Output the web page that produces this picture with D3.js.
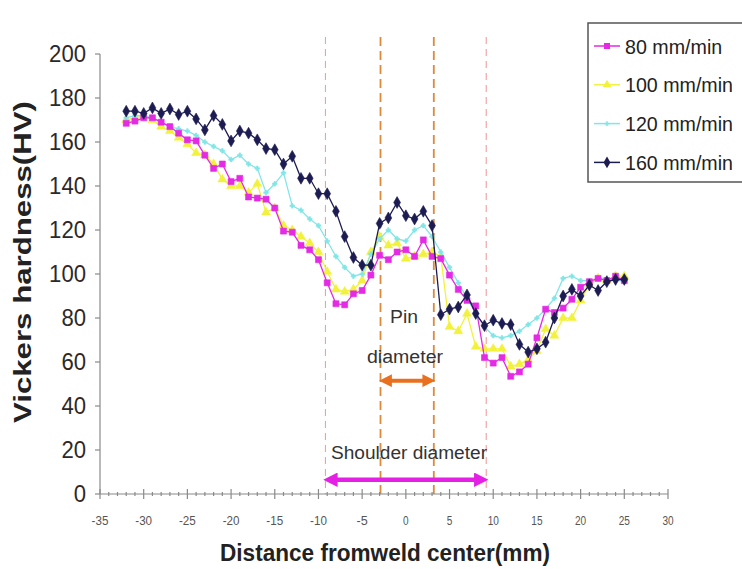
<!DOCTYPE html>
<meta charset="utf-8">
<style>
body { margin: 0; background: #fff; }
svg { display: block; font-family: "Liberation Sans", Arial, sans-serif; }
.axis-line { stroke: #8a8a8a; stroke-width: 1.2; fill: none; }
.ytick text { font-size: 23px; fill: #2a2a2a; }
.xtick text { font-size: 12px; fill: #555; }
.title { font-weight: bold; fill: #222; }
.note { fill: #333; font-size: 18px; }
.legend text { font-size: 21px; fill: #222; }
</style>
<svg width="742" height="569"></svg>
<script src="https://d3js.org/d3.v7.min.js"></script>
<script>

// distance from weld centre (mm), one reading per mm
var distance = [-32,-31,-30,-29,-28,-27,-26,-25,-24,-23,
  -22,-21,-20,-19,-18,-17,-16,-15,-14,-13,
  -12,-11,-10,-9,-8,-7,-6,-5,-4,-3,
  -2,-1,0,1,2,3,4,5,6,7,
  8,9,10,11,12,13,14,15,16,17,
  18,19,20,21,22,23,24,25];

var hv80 = [168.5,169.5,171,171,169,167,164,161,160.5,154,
  148,150,142,143.5,135,134.5,134,130,119.5,119,
  113,111,106.5,96,86.5,86,91,92.5,99.5,108.5,
  106.5,110,111,108,115.5,108,107,99.5,93,88,
  85.5,62,59.5,62,53.5,55.5,59,71,84,82.5,
  84.5,88.5,94,96.5,98,97,99,97];

var hv100 = [170,171,172,170,167,165,162,159,155,154,
  150,143,140,140,137,141,128,130,122,120,
  117,114,110,101,93,92,93,97,110,117,
  113,114,107,108,109,110,108,76,74,82,
  67,66,66,66,58,59,61,65,75,72,
  80,80,88,95,98,97,99,99];

var hv120 = [171,172,172,171,169,167,166,165,163,160,
  158,156,152,154,150,148,137,141,146,131,
  129,125,122,115,108,103,99,100,109,116,
  120,116,115,120,122,117,110,103,96,89,
  82,76,72,71,72,74,77,80,84,89,
  98,99,97,97,98,98,97,97];

var hv160 = [174,174,173,175.5,173,175,172.5,174,170.5,165.5,
  172,168,160.5,165,164,161,157,156.5,150,153.5,
  143.5,143.5,136.5,136.5,128.5,117,107.5,104,104,123,
  125.5,132.5,126.5,125,128.5,122,81.5,84,85,90.5,
  82,76.5,79,77.5,77,68,64.5,66,69,80,
  90,93,90,95,92.5,96.5,97.5,97.5];

var seriesNames = ["80 mm/min", "100 mm/min", "120 mm/min", "160 mm/min"];
var xTicks = [-35,-30,-25,-20,-15,-10,-5,0,5,10,15,20,25,30];
var yTicks = [0,20,40,60,80,100,120,140,160,180,200];

// tool geometry marks (mm)
var shoulderEdges = [-9.2, 9.2];
var pinEdges = [-2.9, 3.2];
var pinArrowHV = 51.5;
var shoulderArrowHV = 6.5;

var series = [
  {name: seriesNames[1], values: hv100, color: "#f2f23c", marker: d3.symbolTriangle, size: 34},
  {name: seriesNames[2], values: hv120, color: "#82e6e6", marker: d3.symbolCross, size: 12},
  {name: seriesNames[0], values: hv80, color: "#e42ae4", marker: d3.symbolSquare, size: 36},
  {name: seriesNames[3], values: hv160, color: "#1c1c52", marker: d3.symbolDiamond, size: 40}
];
var legendOrder = [2, 0, 1, 3];

var svg = d3.select("svg");

var x = d3.scaleLinear().domain([-35, 30]).range([100, 668]);
var y = d3.scaleLinear().domain([0, 200]).range([494, 54]);

// dashed guide lines
var guides = svg.append("g");
shoulderEdges.forEach(function(v) {
  guides.append("line")
    .attr("x1", x(v)).attr("x2", x(v))
    .attr("y1", 37).attr("y2", y(0))
    .attr("stroke", "#f0a0a0").attr("stroke-width", 1.1)
    .attr("stroke-dasharray", "7,5");
});
pinEdges.forEach(function(v) {
  guides.append("line")
    .attr("x1", x(v)).attr("x2", x(v))
    .attr("y1", 37).attr("y2", y(0))
    .attr("stroke", "#de8a3a").attr("stroke-width", 1.8)
    .attr("stroke-dasharray", "9,5");
});

// y axis
svg.append("line").attr("class", "axis-line")
  .attr("x1", x(-35)).attr("x2", x(-35))
  .attr("y1", y(200)).attr("y2", y(0));
var yt = svg.append("g").attr("class", "ytick")
  .selectAll("g").data(yTicks).enter().append("g");
yt.append("line").attr("class", "axis-line")
  .attr("x1", x(-35) - 5).attr("x2", x(-35))
  .attr("y1", function(d) { return y(d); })
  .attr("y2", function(d) { return y(d); });
yt.append("text")
  .attr("x", x(-35) - 14)
  .attr("y", function(d) { return y(d); })
  .attr("dy", "0.36em")
  .attr("text-anchor", "end")
  .attr("textLength", function(d) { return String(d).length * 12.3; })
  .attr("lengthAdjust", "spacingAndGlyphs")
  .text(function(d) { return d; });

// x axis
svg.append("line").attr("class", "axis-line")
  .attr("x1", x(-35)).attr("x2", x(30))
  .attr("y1", y(0)).attr("y2", y(0));
svg.append("g").selectAll("line")
  .data(d3.range(-35, 31))
  .enter().append("line").attr("class", "axis-line")
  .attr("x1", function(d) { return x(d); })
  .attr("x2", function(d) { return x(d); })
  .attr("y1", function(d) { return y(0) - (d % 5 === 0 ? 5 : 2); })
  .attr("y2", function(d) { return y(0) + (d % 5 === 0 ? 5 : 2); });
svg.append("g").attr("class", "xtick")
  .selectAll("text").data(xTicks).enter().append("text")
  .attr("x", function(d) { return x(d); })
  .attr("y", 525)
  .attr("text-anchor", "middle")
  .attr("textLength", function(d) { return String(d).length * 5.6; })
  .attr("lengthAdjust", "spacingAndGlyphs")
  .text(function(d) { return d; });

// axis titles
svg.append("text").attr("class", "title")
  .attr("x", 385).attr("y", 561)
  .attr("text-anchor", "middle")
  .attr("font-size", 23)
  .attr("textLength", 330).attr("lengthAdjust", "spacingAndGlyphs")
  .text("Distance fromweld center(mm)");
svg.append("text").attr("class", "title")
  .attr("transform", "translate(31,262) rotate(-90)")
  .attr("text-anchor", "middle")
  .attr("font-size", 23)
  .attr("textLength", 322).attr("lengthAdjust", "spacingAndGlyphs")
  .text("Vickers hardness(HV)");

// series
var line = d3.line()
  .x(function(d, i) { return x(distance[i]); })
  .y(function(d) { return y(d); });

series.forEach(function(s) {
  svg.append("path")
    .attr("d", line(s.values))
    .attr("fill", "none")
    .attr("stroke", s.color)
    .attr("stroke-width", 1.3);
  svg.append("g").selectAll("path")
    .data(s.values).enter().append("path")
    .attr("transform", function(d, i) { return "translate(" + x(distance[i]) + "," + y(d) + ")"; })
    .attr("d", d3.symbol().type(s.marker).size(s.size))
    .attr("fill", s.color)
    .attr("stroke", s.color)
    .attr("stroke-width", 0.6);
});

// annotations
var defs = svg.append("defs");
function arrowHead(id, color) {
  defs.append("marker")
    .attr("id", id)
    .attr("viewBox", "0 0 10 10")
    .attr("refX", 5).attr("refY", 5)
    .attr("markerWidth", 3.2).attr("markerHeight", 3.2)
    .attr("orient", "auto-start-reverse")
    .append("path").attr("d", "M0,0L10,5L0,10z").attr("fill", color);
}
arrowHead("headPin", "#e8701e");
arrowHead("headShoulder", "#e420e4");

svg.append("line")
  .attr("x1", x(pinEdges[0]) + 5).attr("x2", x(pinEdges[1]) - 5)
  .attr("y1", y(pinArrowHV)).attr("y2", y(pinArrowHV))
  .attr("stroke", "#e8701e").attr("stroke-width", 4)
  .attr("marker-start", "url(#headPin)")
  .attr("marker-end", "url(#headPin)");
svg.append("line")
  .attr("x1", x(shoulderEdges[0]) + 5).attr("x2", x(shoulderEdges[1]) - 5)
  .attr("y1", y(shoulderArrowHV)).attr("y2", y(shoulderArrowHV))
  .attr("stroke", "#e420e4").attr("stroke-width", 4.5)
  .attr("marker-start", "url(#headShoulder)")
  .attr("marker-end", "url(#headShoulder)");

svg.append("text").attr("class", "note")
  .attr("x", 404).attr("y", 323).attr("text-anchor", "middle")
  .attr("textLength", 28).attr("lengthAdjust", "spacingAndGlyphs")
  .text("Pin");
svg.append("text").attr("class", "note")
  .attr("x", 405).attr("y", 363).attr("text-anchor", "middle")
  .attr("textLength", 76).attr("lengthAdjust", "spacingAndGlyphs")
  .text("diameter");
svg.append("text").attr("class", "note")
  .attr("x", 409).attr("y", 459).attr("text-anchor", "middle")
  .attr("textLength", 156).attr("lengthAdjust", "spacingAndGlyphs")
  .text("Shoulder diameter");

// legend
var legend = svg.append("g").attr("class", "legend");
legend.append("rect")
  .attr("x", 588).attr("y", 23)
  .attr("width", 170).attr("height", 159)
  .attr("fill", "#fff").attr("stroke", "#555").attr("stroke-width", 1.5);
var li = legend.selectAll("g.item").data(legendOrder).enter().append("g")
  .attr("class", "item")
  .attr("transform", function(d, i) { return "translate(0," + (46 + i * 38.8) + ")"; });
li.append("line")
  .attr("x1", 594).attr("x2", 620).attr("y1", 0).attr("y2", 0)
  .attr("stroke", function(d) { return series[d].color; })
  .attr("stroke-width", 1.5);
li.append("path")
  .attr("transform", "translate(607,0)")
  .attr("d", function(d) { return d3.symbol().type(series[d].marker).size(series[d].size)(); })
  .attr("fill", function(d) { return series[d].color; });
li.append("text")
  .attr("x", 625).attr("y", 0).attr("dy", "0.36em")
  .attr("textLength", function(d) { return series[d].name.length * 10.8; })
  .attr("lengthAdjust", "spacingAndGlyphs")
  .text(function(d) { return series[d].name; });

</script>
